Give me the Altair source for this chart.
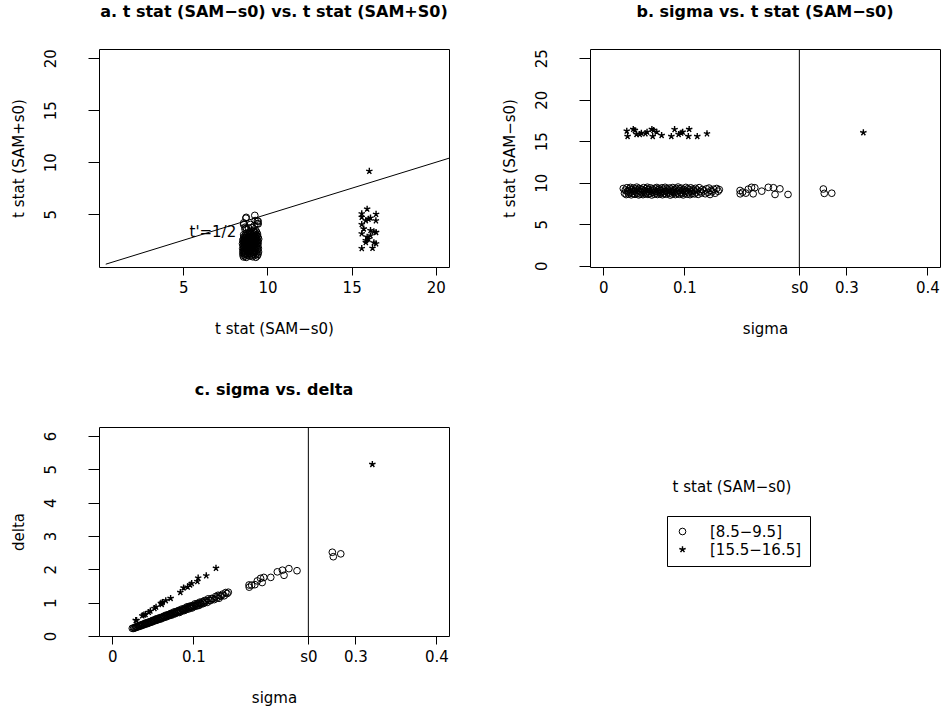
import altair as alt
import pandas as pd

FONT = "DejaVu Sans"
S0 = 0.242

# ---- data -----------------------------------------------------------------
group_labels = ["[8.5\u22129.5]", "[15.5\u221216.5]"]

main_sigma = [
    0.0247, 0.0262, 0.0271, 0.0283, 0.0290, 0.0298, 0.0305, 0.0311, 0.0322, 0.0330,
    0.0336, 0.0345, 0.0351, 0.0359, 0.0368, 0.0374, 0.0381, 0.0392, 0.0398, 0.0405,
    0.0413, 0.0420, 0.0428, 0.0437, 0.0441, 0.0452, 0.0459, 0.0466, 0.0474, 0.0483,
    0.0490, 0.0497, 0.0506, 0.0512, 0.0521, 0.0529, 0.0535, 0.0544, 0.0551, 0.0560,
    0.0566, 0.0575, 0.0583, 0.0590, 0.0598, 0.0606, 0.0613, 0.0622, 0.0630, 0.0637,
    0.0645, 0.0652, 0.0661, 0.0668, 0.0676, 0.0684, 0.0693, 0.0700, 0.0707, 0.0716,
    0.0723, 0.0731, 0.0740, 0.0747, 0.0755, 0.0763, 0.0771, 0.0779, 0.0786, 0.0795,
    0.0803, 0.0811, 0.0818, 0.0827, 0.0834, 0.0843, 0.0851, 0.0858, 0.0866, 0.0875,
    0.0883, 0.0890, 0.0899, 0.0907, 0.0914, 0.0923, 0.0931, 0.0939, 0.0946, 0.0955,
    0.0963, 0.0970, 0.0979, 0.0987, 0.0994, 0.1003, 0.1011, 0.1019, 0.1027, 0.1036,
    0.1044, 0.1052, 0.1061, 0.1070, 0.1079, 0.1089, 0.1098, 0.1108, 0.1117, 0.1127,
    0.1138, 0.1148, 0.1160, 0.1171, 0.1183, 0.1196, 0.1210, 0.1225, 0.1241, 0.1258,
    0.1275, 0.1290, 0.1305, 0.1318, 0.1330, 0.1342, 0.1362, 0.1381, 0.1400, 0.1418, 0.1432,
]
main_t = [
    9.31, 8.74, 9.12, 8.58, 9.40, 8.93, 9.05, 8.66, 9.27, 8.81,
    9.44, 8.55, 9.18, 8.97, 8.69, 9.36, 9.02, 8.61, 9.22, 8.88,
    9.47, 8.72, 9.09, 8.54, 9.33, 8.99, 8.63, 9.25, 8.84, 9.14,
    8.57, 9.41, 8.91, 9.06, 8.68, 9.29, 8.79, 9.46, 8.60, 9.19,
    8.95, 8.71, 9.38, 9.03, 8.53, 9.24, 8.86, 9.11, 8.64, 9.34,
    8.98, 8.77, 9.43, 8.59, 9.16, 8.90, 9.28, 8.67, 9.07, 8.83,
    9.39, 8.56, 9.21, 8.94, 8.70, 9.45, 9.01, 8.62, 9.30, 8.87,
    9.13, 8.75, 9.37, 8.52, 9.23, 8.96, 8.65, 9.42, 9.04, 8.80,
    9.17, 8.58, 9.32, 8.92, 8.73, 9.48, 9.08, 8.61, 9.26, 8.85,
    9.35, 8.69, 9.10, 8.54, 9.20, 8.97, 8.78, 9.44, 9.00, 8.63,
    9.29, 8.82, 9.15, 8.57, 9.39, 8.93, 8.70, 9.24, 9.06, 8.66,
    9.33, 8.88, 9.12, 8.60, 9.41, 8.95, 8.76, 9.19, 9.02, 8.68,
    9.27, 8.84, 9.36, 8.59, 9.09, 8.91, 9.22, 8.74, 9.31, 8.98, 9.17,
]
mid_sigma = [0.1688, 0.1690, 0.1720, 0.1760, 0.1790, 0.1830, 0.1850, 0.1870,
             0.1956, 0.2037, 0.2100, 0.2120, 0.2180, 0.2280]
mid_t = [9.07, 8.67, 8.87, 8.75, 9.23, 9.45, 8.67, 9.40,
         8.99, 9.45, 9.40, 8.59, 9.27, 8.59]
right_sigma = [0.2716, 0.2728, 0.2820]
right_t = [9.25, 8.72, 8.74]

star_sigma = [0.029, 0.030, 0.037, 0.039, 0.041, 0.045, 0.047, 0.052, 0.054, 0.060,
              0.062, 0.061, 0.066, 0.072, 0.084, 0.088, 0.093, 0.096, 0.098, 0.105,
              0.106, 0.116, 0.128, 0.321]
star_t = [16.24, 15.60, 16.45, 16.32, 15.84, 15.84, 16.00, 15.92, 16.12, 16.45,
          16.32, 15.60, 16.12, 15.72, 15.60, 16.44, 15.84, 16.00, 16.12, 15.60,
          16.45, 15.60, 15.92, 16.05]

line_t = [0.4, 20.78]
line_slope_label = ["t'=1/2"]
label_pos_t = [6.76]
label_pos_tp = [3.33]
s0_values = [S0]
legend_title = ["t stat (SAM\u2212s0)"]

# ---- tables ------------------------------------------------------------------
circ_sigma = main_sigma + mid_sigma + right_sigma
circ_t = main_t + mid_t + right_t
df = pd.DataFrame({
    "sigma": circ_sigma + star_sigma,
    "t": circ_t + star_t,
    "group": [group_labels[0]] * len(circ_sigma) + [group_labels[1]] * len(star_sigma),
})
df["delta"] = df["sigma"] * df["t"]
df["tprime"] = df["delta"] / (df["sigma"] + S0)

line_df = pd.DataFrame({"t": line_t, "tprime": [v / 2 for v in line_t]})
lab_df = pd.DataFrame({"t": label_pos_t, "tprime": label_pos_tp, "txt": line_slope_label})
s0_df = pd.DataFrame({"s0": s0_values})
leg_df = pd.DataFrame({"txt": legend_title})

STAR = ("M0,0L0,-1M0,0L0.951,-0.309M0,0L0.588,0.809"
        "M0,0L-0.588,0.809M0,0L-0.951,-0.309")
shape_scale = alt.Scale(domain=group_labels, range=["circle", STAR])
sw_scale = alt.Scale(domain=group_labels, range=[1.0, 1.4])

W, H1, H2 = 350, 218, 209


def xaxis(title, values, expr=None):
    kw = dict(title=title, values=values, tickSize=8, labelPadding=5,
              titleY=61, titleBaseline="middle")
    if expr:
        kw["labelExpr"] = expr
    return alt.Axis(**kw)


def yaxis(title, values):
    return alt.Axis(title=title, values=values, tickSize=11, labelPadding=30,
                    labelAngle=270, labelAlign="center", labelBaseline="bottom",
                    titleX=-81, titleBaseline="middle")


def ptitle(text):
    return alt.TitleParams(text=text, font=FONT, fontSize=16, fontWeight="bold",
                           offset=29, anchor="middle", color="black")


def points(x, y, xscale, yscale, xax, yax, legend=False):
    leg = (alt.Legend(title=None, orient="none", legendX=568, legendY=89,
                      padding=8, strokeColor="black", labelFontSize=15,
                      labelFont=FONT, symbolSize=45, symbolStrokeColor="black",
                      symbolStrokeWidth=1.2, labelOffset=20, rowPadding=2,
                      symbolFillColor="transparent")
           if legend else None)
    return alt.Chart(df).mark_point(filled=False, color="black", size=45,
                                    opacity=1).encode(
        x=alt.X(f"{x}:Q", scale=xscale, axis=xax),
        y=alt.Y(f"{y}:Q", scale=yscale, axis=yax),
        shape=alt.Shape("group:N", scale=shape_scale, legend=leg),
        strokeWidth=alt.StrokeWidth("group:N", scale=sw_scale, legend=None),
    )


sig_expr = ("datum.value > 0.2 && datum.value < 0.25 ? 's0' : "
            "(datum.value == 0 ? '0' : format(datum.value, '.1f'))")
sig_vals = [0, 0.1, S0, 0.3, 0.4]
sig_scale = alt.Scale(domain=[-0.0164, 0.4156], nice=False, zero=False)

# panel a
xa = alt.Scale(domain=[0.0, 20.78], nice=False, zero=False)
ya = alt.Scale(domain=[-0.07, 20.89], nice=False, zero=False)
pa = alt.layer(
    points("t", "tprime", xa, ya,
           xaxis("t stat (SAM\u2212s0)", [5, 10, 15, 20]),
           yaxis("t stat (SAM+s0)", [5, 10, 15, 20])),
    alt.Chart(line_df).mark_line(color="black", strokeWidth=1).encode(
        x=alt.X("t:Q", scale=xa), y=alt.Y("tprime:Q", scale=ya)),
    alt.Chart(lab_df).mark_text(font=FONT, fontSize=15, color="black",
                                align="center", baseline="middle").encode(
        x=alt.X("t:Q", scale=xa), y=alt.Y("tprime:Q", scale=ya), text="txt:N"),
).properties(width=W, height=H1,
             title=ptitle("a. t stat (SAM\u2212s0) vs. t stat (SAM+S0)"))

# panel b
yb = alt.Scale(domain=[-0.15, 26.12], nice=False, zero=False)
pb = alt.layer(
    points("sigma", "t", sig_scale, yb,
           xaxis("sigma", sig_vals, sig_expr),
           yaxis("t stat (SAM\u2212s0)", [0, 5, 10, 15, 20, 25])),
    alt.Chart(s0_df).mark_rule(color="black", strokeWidth=1).encode(
        x=alt.X("s0:Q", scale=sig_scale)),
).properties(width=W, height=H1,
             title=ptitle("b. sigma vs. t stat (SAM\u2212s0)"))

# panel c
yc = alt.Scale(domain=[0.0, 6.27], nice=False, zero=False)
pc = alt.layer(
    points("sigma", "delta", sig_scale, yc,
           xaxis("sigma", sig_vals, sig_expr),
           yaxis("delta", [0, 1, 2, 3, 4, 5, 6]), legend=True),
    alt.Chart(s0_df).mark_rule(color="black", strokeWidth=1).encode(
        x=alt.X("s0:Q", scale=sig_scale)),
).properties(width=W, height=H2, title=ptitle("c. sigma vs. delta"))

# legend title panel
pl = alt.Chart(leg_df).mark_text(font=FONT, fontSize=15, color="black",
                                 align="center", baseline="middle").encode(
    x=alt.value(142), y=alt.value(60), text="txt:N"
).properties(width=W, height=H2, view=alt.ViewBackground(stroke="transparent"))

chart = alt.concat(
    pa, pb, pc, pl, columns=2,
    spacing={"row": 160, "column": 141}, bounds="flush",
).resolve_scale(
    shape="independent", strokeWidth="independent"
).properties(
    padding={"left": 10, "top": 3, "right": 0, "bottom": 0},
    background="white",
).configure_view(
    stroke="black", strokeWidth=1
).configure_axis(
    domain=False, grid=False, tickColor="black", tickWidth=1,
    labelColor="black", titleColor="black", labelFont=FONT, titleFont=FONT,
    labelFontSize=15, titleFontSize=15, titleFontWeight="normal",
)

chart.save("out.html", embed_options={"renderer": "svg", "actions": False})
